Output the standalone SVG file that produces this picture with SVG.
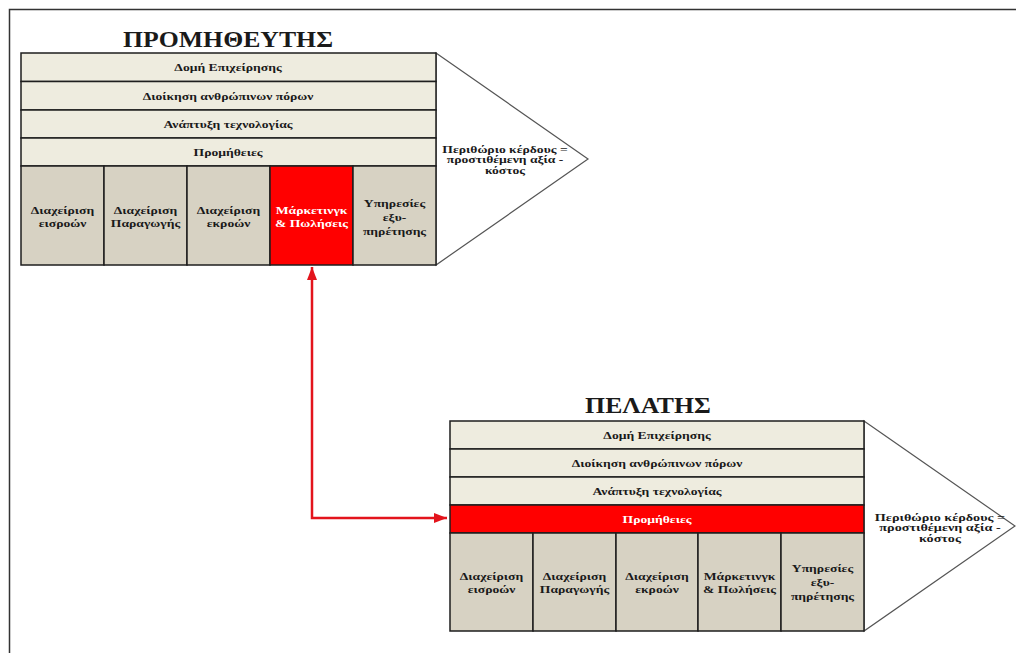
<svg xmlns="http://www.w3.org/2000/svg" width="1016" height="653" viewBox="0 0 1016 653">
  <defs>
    <style>
      .frame { fill: none; stroke: #333; stroke-width: 1.5; }
      .cell { fill: #EEECDF; stroke: #1E1E1E; stroke-width: 1.5; }
      .act { fill: #D7D2C3; stroke: #1E1E1E; stroke-width: 1.5; }
      .hot { fill: #FF0000; stroke: #1E1E1E; stroke-width: 1.5; }
      .margin { fill: #FFFFFF; stroke: #555; stroke-width: 1.2; }
      text { font-family: "Liberation Serif", "Times New Roman", serif; font-weight: bold; text-anchor: middle; }
      .title { font-size: 23px; fill: #1A1A1A; }
      .t { font-size: 10.5px; fill: #1A1A1A; }
      .tw { font-size: 10.5px; fill: #FFFFFF; }
      .link { fill: none; stroke: #E3141C; stroke-width: 2.5; }
    </style>
    <marker id="head" markerUnits="userSpaceOnUse" markerWidth="14" markerHeight="11" refX="13" refY="5" orient="auto-start-reverse">
      <path d="M0,0 L13,5 L0,10 z" fill="#E3141C"/>
    </marker>
  </defs>

  <rect width="1016" height="653" fill="#FFFFFF"/>
  <!-- page frame -->
  <rect class="frame" x="9.5" y="9.5" width="1030" height="670"/>

  <!-- supplier value chain -->
  <g id="supplier">
    <text class="title" transform="translate(228,47) scale(1.12,1)">ΠΡΟΜΗΘΕΥΤΗΣ</text>
    <polygon class="margin" points="436,53 588,159 436,265"/>
    <rect class="cell" x="21" y="53" width="415" height="28.5"/>
    <rect class="cell" x="21" y="81.5" width="415" height="28.5"/>
    <rect class="cell" x="21" y="110" width="415" height="28"/>
    <rect class="cell" x="21" y="138" width="415" height="28"/>
    <rect class="act" x="21" y="166" width="83" height="99"/>
    <rect class="act" x="104" y="166" width="83" height="99"/>
    <rect class="act" x="187" y="166" width="83" height="99"/>
    <rect class="hot" x="270" y="166" width="83" height="99"/>
    <rect class="act" x="353" y="166" width="83" height="99"/>

    <text class="t" transform="translate(228,71) scale(1.3,1)">Δομή Επιχείρησης</text>
    <text class="t" transform="translate(228,99.5) scale(1.3,1)">Διοίκηση ανθρώπινων πόρων</text>
    <text class="t" transform="translate(228,127.5) scale(1.3,1)">Ανάπτυξη τεχνολογίας</text>
    <text class="t" transform="translate(228,155.5) scale(1.3,1)">Προμήθειες</text>

    <text class="t" transform="translate(62.5,213.5) scale(1.3,1)">Διαχείριση</text>
    <text class="t" transform="translate(62.5,226.5) scale(1.3,1)">εισροών</text>
    <text class="t" transform="translate(145.5,213.5) scale(1.3,1)">Διαχείριση</text>
    <text class="t" transform="translate(145.5,226.5) scale(1.3,1)">Παραγωγής</text>
    <text class="t" transform="translate(228.5,213.5) scale(1.3,1)">Διαχείριση</text>
    <text class="t" transform="translate(228.5,226.5) scale(1.3,1)">εκροών</text>
    <text class="tw" transform="translate(311.5,213.5) scale(1.3,1)">Μάρκετινγκ</text>
    <text class="tw" transform="translate(311.5,226.5) scale(1.3,1)">&amp; Πωλήσεις</text>
    <text class="t" transform="translate(394.5,206.5) scale(1.3,1)">Υπηρεσίες</text>
    <text class="t" transform="translate(394.5,220.5) scale(1.3,1)">εξυ-</text>
    <text class="t" transform="translate(394.5,234.5) scale(1.3,1)">πηρέτησης</text>

    <text class="t" transform="translate(505,152.5) scale(1.3,1)">Περιθώριο κέρδους =</text>
    <text class="t" transform="translate(505,163) scale(1.3,1)">προστιθέμενη αξία -</text>
    <text class="t" transform="translate(505,173.5) scale(1.3,1)">κόστος</text>
  </g>

  <!-- customer value chain -->
  <g id="customer">
    <text class="title" transform="translate(648,413) scale(1.12,1)">ΠΕΛΑΤΗΣ</text>
    <polygon class="margin" points="864,421 1015,526 864,631"/>
    <rect class="cell" x="450" y="421" width="414" height="28"/>
    <rect class="cell" x="450" y="449" width="414" height="28"/>
    <rect class="cell" x="450" y="477" width="414" height="28"/>
    <rect class="hot" x="450" y="505" width="414" height="28"/>
    <rect class="act" x="450" y="533" width="83" height="98"/>
    <rect class="act" x="533" y="533" width="83" height="98"/>
    <rect class="act" x="616" y="533" width="82" height="98"/>
    <rect class="act" x="698" y="533" width="83" height="98"/>
    <rect class="act" x="781" y="533" width="83" height="98"/>

    <text class="t" transform="translate(657,438.5) scale(1.3,1)">Δομή Επιχείρησης</text>
    <text class="t" transform="translate(657,466.5) scale(1.3,1)">Διοίκηση ανθρώπινων πόρων</text>
    <text class="t" transform="translate(657,494.5) scale(1.3,1)">Ανάπτυξη τεχνολογίας</text>
    <text class="tw" transform="translate(657,522.5) scale(1.3,1)">Προμήθειες</text>

    <text class="t" transform="translate(491.5,579.5) scale(1.3,1)">Διαχείριση</text>
    <text class="t" transform="translate(491.5,592.5) scale(1.3,1)">εισροών</text>
    <text class="t" transform="translate(574.5,579.5) scale(1.3,1)">Διαχείριση</text>
    <text class="t" transform="translate(574.5,592.5) scale(1.3,1)">Παραγωγής</text>
    <text class="t" transform="translate(657,579.5) scale(1.3,1)">Διαχείριση</text>
    <text class="t" transform="translate(657,592.5) scale(1.3,1)">εκροών</text>
    <text class="t" transform="translate(739.5,579.5) scale(1.3,1)">Μάρκετινγκ</text>
    <text class="t" transform="translate(739.5,592.5) scale(1.3,1)">&amp; Πωλήσεις</text>
    <text class="t" transform="translate(822.5,571.5) scale(1.3,1)">Υπηρεσίες</text>
    <text class="t" transform="translate(822.5,585.5) scale(1.3,1)">εξυ-</text>
    <text class="t" transform="translate(822.5,599.5) scale(1.3,1)">πηρέτησης</text>

    <text class="t" transform="translate(940,520.5) scale(1.35,1)">Περιθώριο κέρδους =</text>
    <text class="t" transform="translate(940,531) scale(1.35,1)">προστιθέμενη αξία -</text>
    <text class="t" transform="translate(940,541.5) scale(1.35,1)">κόστος</text>
  </g>

  <!-- link between supplier sales and customer procurement -->
  <g id="connectors">
    <path class="link" d="M312,267 V518 H447" marker-start="url(#head)" marker-end="url(#head)"/>
  </g>
</svg>
